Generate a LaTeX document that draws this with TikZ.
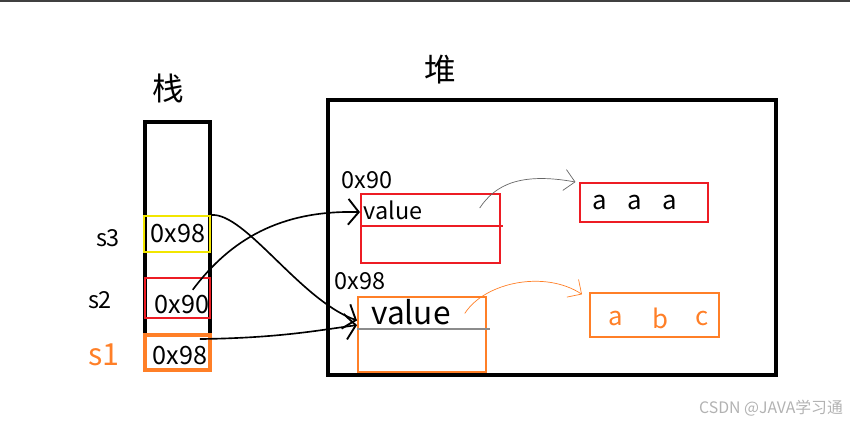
\documentclass[tikz,border=0pt]{standalone}
\usepackage{fontspec}
\setmainfont{Noto Sans CJK SC}
\usetikzlibrary{arrows.meta}
\definecolor{pred}{HTML}{ED1C24}
\definecolor{porange}{HTML}{FF7F27}
\definecolor{pyellow}{HTML}{F2E600}
\tikzstyle{frame}=[draw=black, line width=3.2pt, inner sep=0]
\tikzstyle{cell}=[draw, line width=1.7pt, inner sep=0]
\tikzstyle{txt}=[inner sep=0, font=\fontsize{20}{20}\selectfont]
\tikzstyle{ptr}=[line width=1.4pt, -{Straight Barb[length=9pt,width=22pt,line width=1.6pt]}]
\tikzstyle{thin}=[line width=.6pt, -{Straight Barb[length=9pt,width=18pt,line width=.6pt]}]

\begin{document}
\begin{tikzpicture}[x=.03cm, y=-.03cm]
\useasboundingbox (0,0) rectangle (850,423);
\draw[line width=1.6pt, black!75] (0,1)--(850,1);
\node at (168,88)[txt, font=\fontsize{27}{27}\selectfont](zhan){栈};
\node at (440,70)[txt, font=\fontsize{27}{27}\selectfont](dui){堆};
\node at (177.5,246)[frame, minimum width=1.95cm, minimum height=7.44cm](stack){};
\node at (552,237.5)[frame, minimum width=13.44cm, minimum height=8.25cm](heap){};
\node at (177,234)[cell, pyellow, minimum width=1.98cm, minimum height=1.08cm](s3cell){};
\node at (177.5,298)[cell, pred, minimum width=1.95cm, minimum height=1.2cm](s2cell){};
\node at (177.5,352.5)[cell, porange, line width=2.6pt, minimum width=1.95cm, minimum height=1.05cm](s1cell){};
\node at (178,234)[txt, font=\fontsize{21.5}{21.5}\selectfont](s3val){0x98};
\node at (182,305)[txt, font=\fontsize{21.5}{21.5}\selectfont](s2val){0x90};
\node at (180,356)[txt, font=\fontsize{21.5}{21.5}\selectfont](s1val){0x98};
\node at (108,238)[txt](s3){s3};
\node at (100,300)[txt](s2){s2};
\node at (104,355)[txt, porange, font=\fontsize{26}{26}\selectfont](s1){s1};
\node at (430.5,228.5)[cell, pred, minimum width=4.17cm, minimum height=2.07cm](obj90){};
\node at (422,334.5)[cell, porange, minimum width=3.84cm, minimum height=2.25cm](obj98){};
\draw[pred, line width=1.7pt] (obj90.west |- 0,226)--(503,226);
\draw[black!45, line width=1.7pt] (obj98.west |- 0,329)--(490,329);
\node at (367,180)[txt](a90){0x90};
\node at (360,281)[txt](a98){0x98};
\node at (393,210)[txt](v90){value};
\node at (411,312)[txt, font=\fontsize{27}{27}\selectfont](v98){value};
\node at (644,202.5)[cell, pred, minimum width=3.84cm, minimum height=1.17cm](aaa){};
\node at (654.5,315)[cell, porange, minimum width=3.87cm, minimum height=1.32cm](abc){};
\foreach \x in {600,635,670} {\node at (\x,202)[txt, font=\fontsize{22}{22}\selectfont]{a};}
\node at (616,318)[txt, porange, font=\fontsize{22}{22}\selectfont](ca){a};
\node at (660,318)[txt, porange, font=\fontsize{22}{22}\selectfont](cb){b};
\node at (702,318)[txt, porange, font=\fontsize{22}{22}\selectfont](cc){c};
\draw[ptr] (s3cell.north east) .. controls (245,212) and (300,300) .. ([yshift=12pt]obj98.west);
\draw[ptr] ([xshift=13pt, yshift=7pt]s2cell.center) .. controls (230,240) and (280,210) .. ([yshift=14pt]obj90.west);
\draw[ptr] ([xshift=19pt, yshift=11.5pt]s1cell.center) .. controls (280,338) and (320,330) .. ([yshift=8pt]obj98.west);
\draw[thin, black!60] ([xshift=42pt, yshift=17.5pt]obj90.center) .. controls (495,185) and (520,172) .. ([xshift=-3pt]aaa.north west);
\draw[thin, porange] ([xshift=36.5pt, yshift=18pt]obj98.center) .. controls (485,282) and (545,270) .. ([xshift=-6pt, yshift=-2pt]abc.north west);
\node at (771,408)[txt, black!30, font=\fontsize{13.5}{13.5}\selectfont](mark){CSDN @JAVA学习通};
\end{tikzpicture}
\end{document}
